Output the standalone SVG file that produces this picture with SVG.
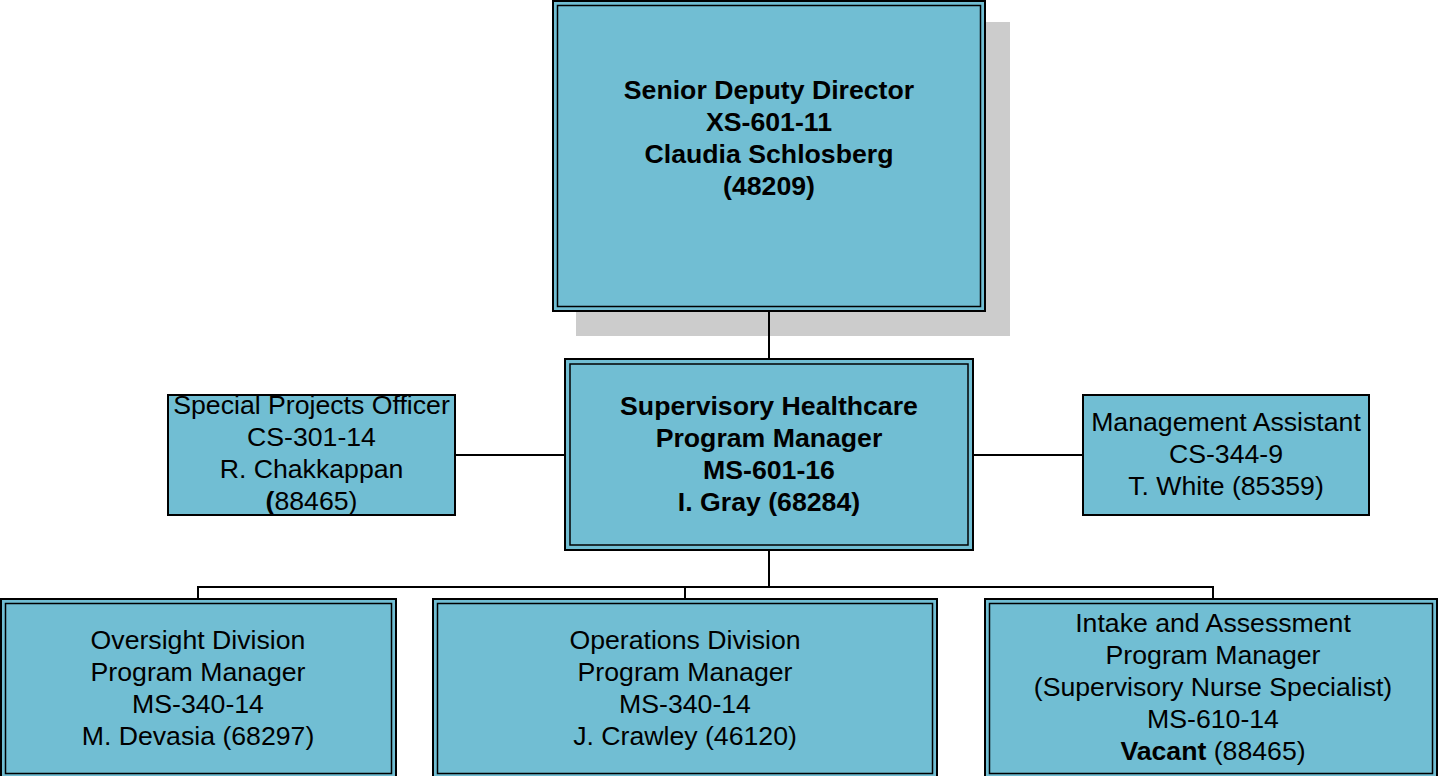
<svg xmlns="http://www.w3.org/2000/svg" width="1439" height="776" viewBox="0 0 1439 776">
<style>
.box{fill:#71bed3;stroke:#000;stroke-width:2}
.inner{fill:none;stroke:#000;stroke-width:1.5}
.single{fill:#71bed3;stroke:#000;stroke-width:2}
.t{font-family:"Liberation Sans",Arial,sans-serif;font-size:26.67px;fill:#000;text-anchor:middle}
.b{font-weight:bold}
.conn{fill:none;stroke:#000;stroke-width:2}
</style>
<rect x="576" y="22" width="434" height="314" fill="#cccccc"/>
<g id="connectors">
<line class="conn" x1="769" y1="311" x2="769" y2="359"/>
<line class="conn" x1="455" y1="455" x2="565" y2="455"/>
<line class="conn" x1="973" y1="455" x2="1083" y2="455"/>
<line class="conn" x1="769" y1="550" x2="769" y2="587"/>
<polyline class="conn" points="198,599 198,587 1213,587 1213,599"/>
<line class="conn" x1="685" y1="587" x2="685" y2="600"/>
</g>
<g id="senior-deputy-director">
<rect class="box" x="553" y="1" width="432" height="310"/>
<rect class="inner" x="557.5" y="5.5" width="423" height="301"/>
<text class="t b" x="769" y="99">Senior Deputy Director</text>
<text class="t b" x="769" y="131">XS-601-11</text>
<text class="t b" x="769" y="163">Claudia Schlosberg</text>
<text class="t b" x="769" y="195">(48209)</text>
</g>
<g id="supervisory-healthcare">
<rect class="box" x="565" y="359" width="408" height="191"/>
<rect class="inner" x="570" y="364" width="398" height="181"/>
<text class="t b" x="769" y="415">Supervisory Healthcare</text>
<text class="t b" x="769" y="447">Program Manager</text>
<text class="t b" x="769" y="479">MS-601-16</text>
<text class="t b" x="769" y="511">I. Gray (68284)</text>
</g>
<g id="special-projects-officer">
<rect class="single" x="168" y="395" width="287" height="120"/>
<text class="t" x="311.5" y="414">Special Projects Officer</text>
<text class="t" x="311.5" y="446">CS-301-14</text>
<text class="t" x="311.5" y="478">R. Chakkappan</text>
<text class="t" x="311.5" y="510"><tspan class="b">(</tspan>88465)</text>
</g>
<g id="management-assistant">
<rect class="single" x="1083" y="395" width="286" height="120"/>
<text class="t" x="1226" y="431">Management Assistant</text>
<text class="t" x="1226" y="463">CS-344-9</text>
<text class="t" x="1226" y="495">T. White (85359)</text>
</g>
<g id="oversight-division">
<rect class="box" x="1" y="599" width="395" height="180"/>
<rect class="inner" x="5.5" y="603.5" width="386" height="170"/>
<text class="t" x="198" y="649">Oversight Division</text>
<text class="t" x="198" y="681">Program Manager</text>
<text class="t" x="198" y="713">MS-340-14</text>
<text class="t" x="198" y="745">M. Devasia (68297)</text>
</g>
<g id="operations-division">
<rect class="box" x="433" y="599" width="504" height="180"/>
<rect class="inner" x="437.5" y="603.5" width="495" height="170"/>
<text class="t" x="685" y="649">Operations Division</text>
<text class="t" x="685" y="681">Program Manager</text>
<text class="t" x="685" y="713">MS-340-14</text>
<text class="t" x="685" y="745">J. Crawley (46120)</text>
</g>
<g id="intake-assessment">
<rect class="box" x="985" y="599" width="452" height="180"/>
<rect class="inner" x="989.5" y="603.5" width="443" height="170"/>
<text class="t" x="1213" y="632">Intake and Assessment</text>
<text class="t" x="1213" y="664">Program Manager</text>
<text class="t" x="1213" y="696">(Supervisory Nurse Specialist)</text>
<text class="t" x="1213" y="728">MS-610-14</text>
<text class="t" x="1213" y="760"><tspan class="b">Vacant</tspan> (88465)</text>
</g>
</svg>
